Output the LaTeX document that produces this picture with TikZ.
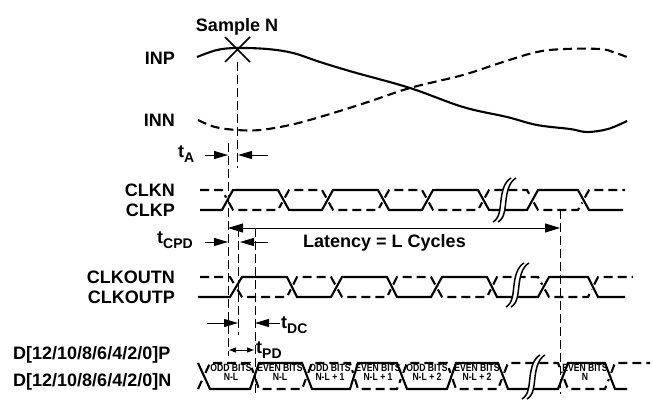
\documentclass[tikz,border=0pt]{standalone}
\usepackage{fontspec}
\setmainfont{Liberation Sans}
\newfontfamily\cellfont[FakeStretch=0.82]{Liberation Sans}
\usetikzlibrary{arrows.meta,calc}
\newcommand\tsub[1]{t\raisebox{-4.5pt}{\fontsize{14}{14}\selectfont #1}}
\begin{document}
\begin{tikzpicture}[x=1pt,y=-1pt,
  wave/.style={line width=2.1pt},
  wdash/.style={line width=2.1pt, dash pattern=on 9pt off 5pt},
  guide/.style={line width=0.9pt, dash pattern=on 9pt off 4pt},
  arr/.style={line width=1pt, -{Triangle[length=14pt,width=8pt]}},
  arrb/.style={line width=1pt, {Triangle[length=15pt,width=9pt]}-{Triangle[length=15pt,width=9pt]}},
  arrs/.style={line width=1pt, {Triangle[length=7pt,width=5pt]}-{Triangle[length=7pt,width=5pt]}},
  lbl/.style={font=\fontsize{18}{18}\selectfont\bfseries, inner sep=0pt},
  cell/.style={font=\cellfont\bfseries\fontsize{10.5}{9}\selectfont, align=center, inner sep=0pt},
  brk/.pic={
    \fill[white] (-10,22) .. controls (-3,18) and (-3,8) .. (-2,0) .. controls (-1,-8) and (1,-18) .. (8,-22) -- (13,-22) .. controls (6,-18) and (4,-8) .. (3,0) .. controls (2,8) and (2,18) .. (-5,22) -- cycle;
    \draw[line width=1.5pt] (-10,22) .. controls (-3,18) and (-3,8) .. (-2,0) .. controls (-1,-8) and (1,-18) .. (8,-22);
    \draw[line width=1.5pt] (-5,22) .. controls (2,18) and (2,8) .. (3,0) .. controls (4,-8) and (6,-18) .. (13,-22);
  }
]
\useasboundingbox (0,0) rectangle (653,401);

% guide lines
\draw[guide] (237,62) -- (237,168);
\draw[guide] (228,143) -- (228,356);
\draw[guide] (238,228) -- (238,335);
\draw[guide] (255,228) -- (255,394);
\draw[guide] (560,210) -- (560,394);

% analog inputs
\draw[wave] plot[smooth, tension=0.6] coordinates {(197,57) (217,50) (237,48) (267,49) (293,53) (320,62) (353,72) (410,88) (463,107) (507,117) (537,125) (570,129) (587,132) (608,129) (627,121)};
\draw[wdash] plot[smooth, tension=0.6] coordinates {(198,120) (215,127) (237,130) (260,130) (290,125) (320,117) (365,103) (410,88) (463,75) (503,62) (537,52) (565,49) (600,49) (613,52) (627,57)};
\draw[line width=1.5pt] (225,37) -- (250,62) (250,37) -- (225,62);

% CLK
\draw[wave] (200,210) -- (222,210) -- (233,190) -- (278,190) -- (289,210) -- (322,210) -- (333,190) -- (378,190) -- (389,210) -- (422,210) -- (433,190) -- (478,190) -- (489,210) -- (527,210) -- (538,190) -- (578,190) -- (589,210) -- (623,210);
\draw[wdash] (200,190) -- (222,190) -- ($(222,190)!0.38!(233,210)$);
\foreach \ps/\s/\e/\ne/\y/\yo in {222/233/278/289/210/190, 278/289/322/333/190/210, 322/333/378/389/210/190, 378/389/422/433/190/210, 422/433/478/489/210/190, 478/489/527/538/190/210, 527/538/578/589/210/190}
  \draw[wdash] ($(\ps,\yo)!0.62!(\s,\y)$) -- (\s,\y) -- (\e,\y) -- ($(\e,\y)!0.38!(\ne,\yo)$);
\draw[wdash] ($(578,210)!0.62!(589,190)$) -- (589,190) -- (625,190);

% CLKOUT
\draw[wave] (198,297) -- (230,297) -- (242,277) -- (287,277) -- (297,297) -- (331,297) -- (342,277) -- (387,277) -- (397,297) -- (431,297) -- (442,277) -- (487,277) -- (497,297) -- (538,297) -- (549,277) -- (588,277) -- (598,297) -- (625,297);
\draw[wdash] (200,277) -- (230,277) -- ($(230,277)!0.38!(242,297)$);
\foreach \ps/\s/\e/\ne/\y/\yo in {230/242/287/297/297/277, 287/297/331/342/277/297, 331/342/387/397/297/277, 387/397/431/442/277/297, 431/442/487/497/297/277, 487/497/538/549/277/297, 538/549/588/598/297/277}
  \draw[wdash] ($(\ps,\yo)!0.62!(\s,\y)$) -- (\s,\y) -- (\e,\y) -- ($(\e,\y)!0.38!(\ne,\yo)$);
\draw[wdash] ($(588,297)!0.62!(598,277)$) -- (598,277) -- (633,277);

% data
\draw[wave] (198,363) -- (210,389) -- (250,389) -- (259,363) -- (302,363) -- (312,389) -- (350,389) -- (358,363) -- (397,363) -- (407,389) -- (447,389) -- (456,363) -- (498,363) -- (508,389) -- (558,389) -- (568,363) -- (605,363) -- (615,389) -- (627,389);
\draw[wdash] (198,389) -- ($(198,389)!0.38!(210,363)$);
\foreach \ps/\s/\e/\ne/\y/\yo in {198/210/250/259/363/389, 250/259/302/312/389/363, 302/312/350/358/363/389, 350/358/397/407/389/363, 397/407/447/456/363/389, 447/456/498/508/389/363, 498/508/558/568/363/389, 558/568/605/615/389/363}
  \draw[wdash] ($(\ps,\yo)!0.62!(\s,\y)$) -- (\s,\y) -- (\e,\y) -- ($(\e,\y)!0.38!(\ne,\yo)$);
\draw[wdash] ($(605,389)!0.62!(615,363)$) -- (615,363) -- (650,363);

% breaks
\pic at (503,200) {brk};
\pic at (516,285) {brk};
\pic at (532,377) {brk};

% cell labels
\node[cell] (c1) at (231,372) {ODD BITS\\N-L};
\node[cell] (c2) at (280,372) {EVEN BITS\\N-L};
\node[cell] (c3) at (330,372) {ODD BITS\\N-L + 1};
\node[cell] (c4) at (378,372) {EVEN BITS\\N-L + 1};
\node[cell] (c5) at (427,372) {ODD BITS\\N-L + 2};
\node[cell] (c6) at (477,372) {EVEN BITS\\N-L + 2};
\node[cell] (c8) at (585,372) {EVEN BITS\\N};

% labels
\node[lbl] (sample) at (237,27) {Sample N};
\node[lbl, anchor=east] (inp) at (175,58) {INP};
\node[lbl, anchor=east] (inn) at (175,120) {INN};
\node[lbl, anchor=east] (clkn) at (175,190) {CLKN};
\node[lbl, anchor=east] (clkp) at (175,210) {CLKP};
\node[lbl, anchor=east] (clkoutn) at (175,277) {CLKOUTN};
\node[lbl, anchor=east] (clkoutp) at (175,297) {CLKOUTP};
\node[lbl, anchor=west] (dp) at (13,355) {D[12/10/8/6/4/2/0]P};
\node[lbl, anchor=west] (dn) at (13,382) {D[12/10/8/6/4/2/0]N};
\node[lbl, anchor=west] (ta) at (178,154) {\tsub{A}};
\node[lbl, anchor=west] (tcpd) at (157,240) {\tsub{CPD}};
\node[lbl, anchor=west] (lat) at (303,243) {Latency = L Cycles};
\node[lbl, anchor=west] (tdc) at (281,325) {\tsub{DC}};
\node[lbl, anchor=west] (tpd) at (256,350) {\tsub{PD}};

% arrows
\coordinate (a1) at (205,155); \coordinate (a2) at (228,155);
\coordinate (a3) at (268,155); \coordinate (a4) at (238,155);
\draw[arr] (a1) -- (a2);
\draw[arr] (a3) -- (a4);
\coordinate (b1) at (205,242); \coordinate (b2) at (228,242);
\coordinate (b3) at (268,242); \coordinate (b4) at (240,242);
\draw[arr] (b1) -- (b2);
\draw[arr] (b3) -- (b4);
\coordinate (l1) at (228,228); \coordinate (l2) at (560,228);
\draw[arrb] (l1) -- (l2);
\coordinate (d1) at (207,323); \coordinate (d2) at (238,323);
\coordinate (d3) at (280,323); \coordinate (d4) at (255,323);
\draw[arr] (d1) -- (d2);
\draw[arr] (d3) -- (d4);
\coordinate (p1) at (229,350); \coordinate (p2) at (254,350);
\draw[arrs] (p1) -- (p2);
\end{tikzpicture}
\end{document}
